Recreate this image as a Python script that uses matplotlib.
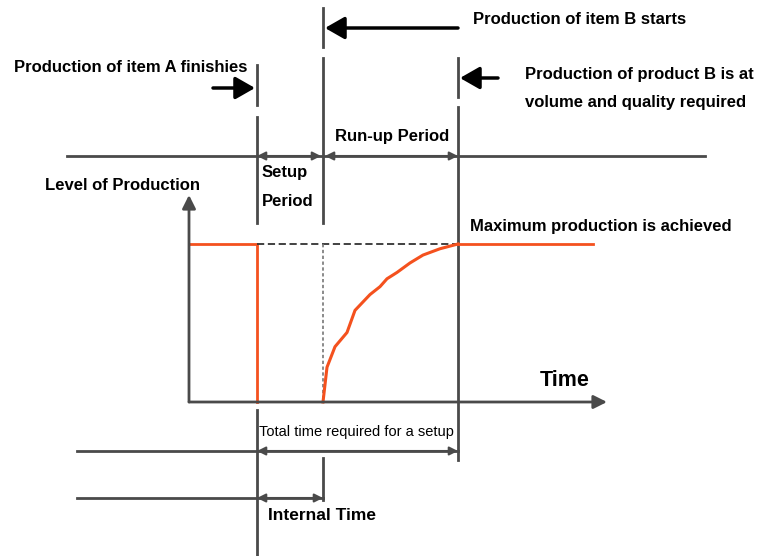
import matplotlib
matplotlib.use('Agg')
import matplotlib.pyplot as plt

# production level over time (time units from the origin of the time axis, level 0..1)
t_a_end = 68        # production of item A finishes
t_b_start = 134     # production of item B starts
t_full = 269        # B at volume and quality
t_max = 404
runup_t = [134, 138, 146, 158, 166, 181, 191, 198, 208, 221, 234, 251, 269]
runup_level = [0, 0.22, 0.35, 0.44, 0.58, 0.68, 0.73, 0.78, 0.82, 0.88, 0.93, 0.97, 1.0]

# picture layout: where the time axis sits on the page
x0, y0, h = 189, 402, 158
def px(t):
    return x0 + t
def py(lvl):
    return y0 - lvl * h

grey = '#4a4a4a'
red = '#f4511e'
plt.rcParams['font.family'] = ['Liberation Sans', 'DejaVu Sans']

fig = plt.figure(figsize=(7.62, 5.56), dpi=100)
ax = fig.add_axes([0, 0, 1, 1])
ax.set_xlim(0, 762)
ax.set_ylim(556, 0)
ax.axis('off')

xa, xb, xf = px(t_a_end), px(t_b_start), px(t_full)

# vertical event lines (broken segments)
for seg in [(65, 105), (117, 223), (410, 556)]:
    ax.plot([xa, xa], seg, color=grey, lw=2)
for seg in [(8, 47), (58, 223)]:
    ax.plot([xb, xb], seg, color=grey, lw=2)
ax.plot([xb, xb], [458, 500], color=grey, lw=2)
for seg in [(58, 97), (107, 460)]:
    ax.plot([xf, xf], seg, color=grey, lw=2)

# top pointer arrows
big = dict(arrowstyle='-|>,head_length=0.7,head_width=0.4', color='black', lw=2.5,
           shrinkA=0, shrinkB=0, mutation_scale=17)
ax.annotate('', xy=(xa - 2, 88), xytext=(213, 88), arrowprops=big)
ax.annotate('', xy=(xb + 2, 28), xytext=(458, 28), arrowprops=big)
ax.annotate('', xy=(xf + 2, 78), xytext=(498, 78), arrowprops=big)

# period line
ax.plot([67, 705], [156, 156], color=grey, lw=2)
small = dict(arrowstyle='<|-|>,head_length=0.5,head_width=0.25', color=grey, lw=1.5,
             shrinkA=0, shrinkB=0, mutation_scale=10)
ax.annotate('', xy=(xb - 2, 156), xytext=(xa, 156), arrowprops=small)
ax.annotate('', xy=(xf, 156), xytext=(xb + 2, 156), arrowprops=small)

# production axes
axarrow = dict(arrowstyle='-|>,head_length=0.5,head_width=0.25', color=grey, lw=2,
               shrinkA=0, shrinkB=0, mutation_scale=16)
ax.annotate('', xy=(x0, 195), xytext=(x0, y0), arrowprops=axarrow)
ax.annotate('', xy=(px(t_max) + 14, y0), xytext=(x0, y0), arrowprops=axarrow)

# production level
ax.plot([px(0), xa, xa], [py(1), py(1), py(0)], color=red, lw=2)
ax.plot([xa, xf], [py(1), py(1)], color='#333333', lw=1.3, ls=(0, (4, 2)))
ax.plot([xb, xb], [py(1), py(0)], color='#777777', lw=1.2, ls=(0, (2, 1.5)))
ax.plot([px(t) for t in runup_t], [py(v) for v in runup_level], color=red, lw=2.2)
ax.plot([xf, px(t_max)], [py(1), py(1)], color=red, lw=2)

# setup time lines
ax.plot([77, xf], [451, 451], color=grey, lw=2)
ax.annotate('', xy=(xf, 451), xytext=(xa, 451), arrowprops=small)
ax.plot([77, xb], [498, 498], color=grey, lw=2)
ax.annotate('', xy=(xb, 498), xytext=(xa, 498), arrowprops=small)

bold = dict(fontsize=12, fontweight='bold', va='center', ha='left')
ax.text(473, 20, 'Production of item B starts', **bold)
ax.text(14, 68, 'Production of item A finishies', **bold)
ax.text(525, 74, 'Production of product B is at', **bold)
ax.text(525, 103, 'volume and quality required', **bold)
ax.text(335, 137, 'Run-up Period', **bold)
ax.text(262, 172, 'Setup', **bold)
ax.text(262, 201, 'Period', **bold)
ax.text(45, 186, 'Level of Production', **bold)
ax.text(470, 226, 'Maximum production is achieved', **bold)
ax.text(540, 380, 'Time', fontsize=15.5, fontweight='bold', va='center', ha='left')
ax.text(259, 432, 'Total time required for a setup', fontsize=10.5, va='center', ha='left')
ax.text(268, 516, 'Internal Time', fontsize=12.5, fontweight='bold', va='center', ha='left')

fig.savefig('out.png', dpi=100)
